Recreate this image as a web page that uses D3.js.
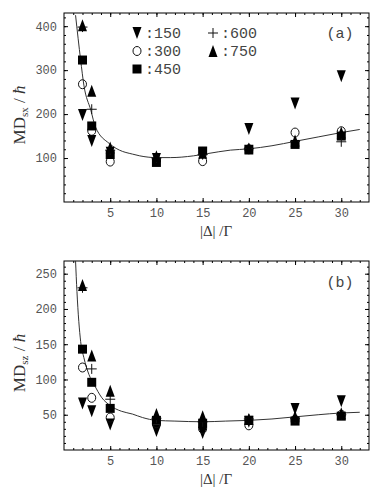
<!DOCTYPE html>
<html>
<head>
<meta charset="utf-8">
<script src="https://cdn.jsdelivr.net/npm/d3@7"></script>
<style>
  body { margin: 0; background: #fff; }
  .tick text { font-family: "Liberation Mono", monospace; font-size: 12px; fill: #555; }
  .tick line { stroke: #000; }
</style>
</head>
<body>
<svg id="chart" width="383" height="501"></svg>
<script>
// ---- data ----
var detunings = [2, 3, 5, 10, 15, 20, 25, 30]
var seriesNames = ["150", "300", "450", "600", "750"]
var seriesShapes = ["down", "circle", "square", "plus", "up"]

// panel (a) MD_sx
var a150 = [198, 139, 112, 98, 110, 166, 224, 286]
var a300 = [268, 162, 92, 96, 93, 120, 158, 161]
var a450 = [323, 173, 108, 90, 116, 120, 131, 150]
var a600 = [398, 211, 118, 100, 108, 122, 138, 137]
var a750 = [402, 253, 124, 104, 112, 122, 140, 158]
var curveAx = [1.25, 1.8, 2.15, 2.9, 3.4, 4.9, 6, 7.4, 8.2, 10, 11.5, 14, 15.5, 18, 20, 22.5, 25, 27.5, 30, 32]
var curveAy = [425, 323, 266, 209, 171, 133, 118, 109, 105, 101, 101, 105, 110, 118, 121, 128, 138, 148, 158, 165]

// panel (b) MD_sz
var b150 = [66, 55, 36, 27, 24, 40, 58, 69]
var b300 = [117, 74, 46, 38, 30, 35, 43, 50]
var b450 = [143, 96, 59, 42, 38, 42, 41, 48]
var b600 = [230, 115, 72, 45, 40, 44, 45, 50]
var b750 = [234, 134, 84, 51, 48, 44, 48, 52]
var curveBx = [1.25, 1.4, 1.8, 2.15, 2.7, 3.25, 4.1, 5, 6.2, 7.4, 8.5, 10, 12, 15, 17.5, 20, 22.5, 25, 27.5, 30, 32]
var curveBy = [268, 225, 154, 131, 107, 93, 74, 63, 55, 51, 46, 42, 41, 40, 41, 42, 44, 47, 50, 52.5, 53.5]

var xTicks = [5, 10, 15, 20, 25, 30]
var aTicks = [100, 200, 300, 400]
var bTicks = [50, 100, 150, 200, 250]

var svg = d3.select("#chart")

/* marker path for one shape, centred on 0,0 */
var markerPath = function (shape) {
  if (shape == "down") return "M-4.5,-6L4.5,-6L0,6Z"
  if (shape == "up") return "M0,-6L4.5,6L-4.5,6Z"
  if (shape == "square") return "M-4.5,-4.5H4.5V4.5H-4.5Z"
  if (shape == "plus") return "M-5,0H5M0,-5V5"
  return "M-4,0A4,4.5 0 1,0 4,0A4,4.5 0 1,0 -4,0Z"
}
var styleMarker = function (sel, shape) {
  if (shape == "circle") sel.attr("fill", "none").attr("stroke", "#111").attr("stroke-width", 1)
  else if (shape == "plus") sel.attr("fill", "none").attr("stroke", "#111").attr("stroke-width", 1)
  else sel.attr("fill", "#000")
}

var x = d3.scaleLinear().domain([0, 33]).range([64, 369])

var drawPanel = function (p) {
  var y = d3.scaleLinear().domain(p.yDomain).range([p.bottom, p.top])
  var g = svg.append("g")

  // ticks, all pointing inward
  var minorX = d3.range(1, 33)
  g.append("g").attr("transform", "translate(0," + p.bottom + ")")
      .call(d3.axisBottom(x).tickValues(minorX).tickSize(-2).tickFormat(""))
  g.append("g").attr("transform", "translate(0," + p.bottom + ")")
      .call(d3.axisBottom(x).tickValues(xTicks).tickSize(-4).tickPadding(6))
  g.append("g").attr("transform", "translate(0," + p.top + ")")
      .call(d3.axisTop(x).tickValues(minorX).tickSize(-2).tickFormat(""))
  g.append("g").attr("transform", "translate(0," + p.top + ")")
      .call(d3.axisTop(x).tickValues(xTicks).tickSize(-4).tickFormat(""))

  var minorY = d3.range(p.minorStep, p.yDomain[1], p.minorStep)
  g.append("g").attr("transform", "translate(64,0)")
      .call(d3.axisLeft(y).tickValues(minorY).tickSize(-2).tickFormat(""))
  g.append("g").attr("transform", "translate(64,0)")
      .call(d3.axisLeft(y).tickValues(p.yTicks).tickSize(-4).tickPadding(7))
  g.append("g").attr("transform", "translate(369,0)")
      .call(d3.axisRight(y).tickValues(minorY).tickSize(-2).tickFormat(""))
  g.append("g").attr("transform", "translate(369,0)")
      .call(d3.axisRight(y).tickValues(p.yTicks).tickSize(-4).tickFormat(""))
  g.selectAll(".domain").remove()

  g.append("rect")
      .attr("x", 64).attr("y", p.top)
      .attr("width", 305).attr("height", p.bottom - p.top)
      .attr("fill", "none").attr("stroke", "#000").attr("stroke-width", 1)

  // fitted curve
  g.append("clipPath").attr("id", "clip" + p.name)
      .append("rect").attr("x", 64).attr("y", p.top)
      .attr("width", 305).attr("height", p.bottom - p.top)
  var line = d3.line()
      .x(function (d) { return x(d[0]) })
      .y(function (d) { return y(d[1]) })
      .curve(d3.curveMonotoneX)
  g.append("path")
      .datum(d3.zip(p.cx, p.cy))
      .attr("clip-path", "url(#clip" + p.name + ")")
      .attr("d", line)
      .attr("fill", "none").attr("stroke", "#333").attr("stroke-width", 1)

  // data markers
  p.series.forEach(function (vals, k) {
    var shape = seriesShapes[k]
    var m = g.append("g").selectAll("path")
        .data(d3.zip(detunings, vals))
        .enter().append("path")
        .attr("transform", function (d) { return "translate(" + x(d[0]) + "," + y(d[1]) + ")" })
        .attr("d", markerPath(shape))
    styleMarker(m, shape)
  })

  // axis titles
  g.append("text")
      .attr("x", 216).attr("y", p.bottom + 34)
      .attr("text-anchor", "middle")
      .attr("font-family", "Liberation Serif, serif").attr("font-size", 15).attr("fill", "#333")
      .text("|\u0394| /\u0393")
  var t = g.append("text")
      .attr("transform", "translate(25," + p.titleY + ") rotate(-90)")
      .attr("text-anchor", "middle")
      .attr("font-family", "Liberation Serif, serif").attr("font-size", 17).attr("fill", "#333")
  t.append("tspan").text("MD")
  t.append("tspan").attr("font-size", 11).attr("dy", 3).text(p.sub)
  t.append("tspan").attr("dy", -3).text("  / ")
  t.append("tspan").attr("font-style", "italic").text("\u0127")

  g.append("text")
      .attr("x", 340).attr("y", p.top + p.tagDy)
      .attr("text-anchor", "middle")
      .attr("font-family", "Liberation Mono, monospace").attr("font-size", 15).attr("fill", "#444")
      .text(p.tag)
  return g
}

var ga = drawPanel({
  name: "a", top: 13, bottom: 202, yDomain: [0, 430], yTicks: aTicks, minorStep: 20,
  cx: curveAx, cy: curveAy, series: [a150, a300, a450, a600, a750],
  sub: "sx", titleY: 115, tag: "(a)", tagDy: 25
})
drawPanel({
  name: "b", top: 261, bottom: 450, yDomain: [0, 268], yTicks: bTicks, minorStep: 10,
  cx: curveBx, cy: curveBy, series: [b150, b300, b450, b600, b750],
  sub: "sz", titleY: 363, tag: "(b)", tagDy: 26
})

// legend, panel (a) only
var legendX = [137, 137, 137, 213, 213]
var legendY = [33, 51, 69, 33, 51]
seriesNames.forEach(function (name, k) {
  var shape = seriesShapes[k]
  var item = ga.append("g").attr("transform", "translate(" + legendX[k] + "," + legendY[k] + ")")
  styleMarker(item.append("path").attr("d", markerPath(shape)), shape)
  item.append("text")
      .attr("x", 8).attr("y", 5)
      .attr("font-family", "Liberation Mono, monospace").attr("font-size", 15).attr("fill", "#444")
      .text(":" + name)
})
</script>
</body>
</html>
